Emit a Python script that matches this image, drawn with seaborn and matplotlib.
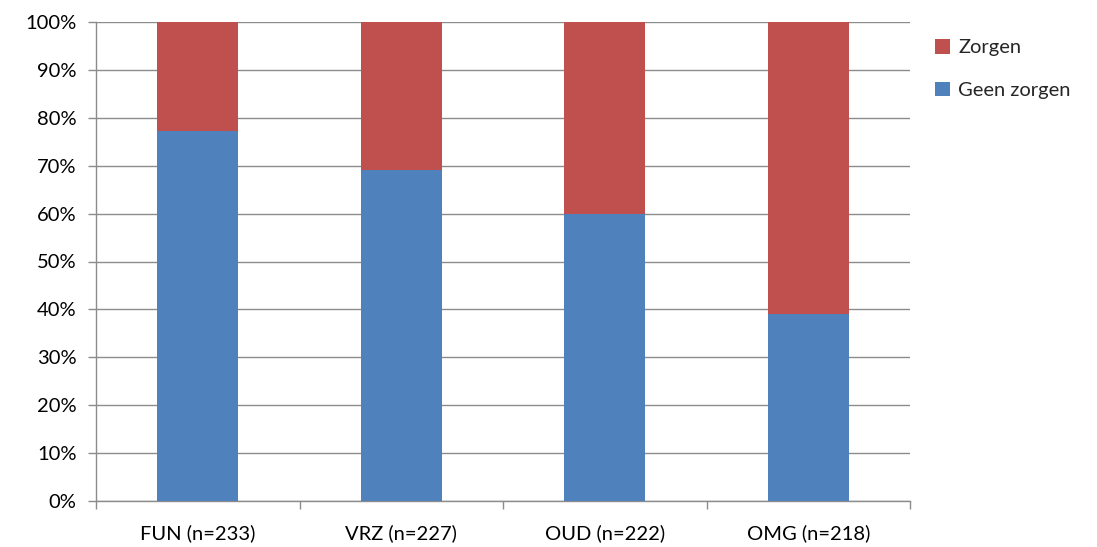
import matplotlib
matplotlib.use("Agg")
import matplotlib.pyplot as plt
import seaborn as sns
import pandas as pd
import numpy as np
from matplotlib.patches import Patch
from matplotlib.ticker import FixedLocator, PercentFormatter

categories = ["FUN (n=233)", "VRZ (n=227)", "OUD (n=222)", "OMG (n=218)"]
geen_zorgen = [77.2, 69.2, 59.9, 39.0]
zorgen = [22.8, 30.8, 40.1, 61.0]

BLUE = "#4F81BD"
RED = "#C0504D"

sns.set_theme(style="white")
plt.rcParams["font.family"] = ["Lato", "DejaVu Sans"]

df = pd.DataFrame({"cat": categories, "geen": geen_zorgen, "zorgen": zorgen})
df["total"] = df["geen"] + df["zorgen"]

fig = plt.figure(figsize=(10.97, 5.47), dpi=100)
ax = fig.add_axes([96/1097, 1 - 501/547, (910-96)/1097, (501-22)/547])

sns.barplot(data=df, x="cat", y="total", color=RED, saturation=1, width=0.4, ax=ax,
            zorder=3, linewidth=0, edgecolor="none")
sns.barplot(data=df, x="cat", y="geen", color=BLUE, saturation=1, width=0.4, ax=ax,
            zorder=4, linewidth=0, edgecolor="none")

ax.set_xlim(-0.5, 3.5)
ax.set_ylim(0, 100)
ax.set_yticks(np.arange(0, 101, 10))
ax.yaxis.set_major_formatter(PercentFormatter(decimals=0))
ax.yaxis.grid(True, color="#8c8c8c", linewidth=1.0, zorder=0)
ax.set_axisbelow(True)
ax.set_xlabel("")
ax.set_ylabel("")

for s in ["top", "right"]:
    ax.spines[s].set_visible(False)
for s in ["left", "bottom"]:
    ax.spines[s].set_color("#8c8c8c")
    ax.spines[s].set_linewidth(1.0)

ax.tick_params(axis="y", which="major", length=6, color="#8c8c8c", width=1, labelsize=14.5, labelcolor="black", pad=8, left=True)
ax.tick_params(axis="x", which="major", length=0, labelsize=14.5, labelcolor="black", pad=17)
ax.xaxis.set_minor_locator(FixedLocator([-0.5, 0.5, 1.5, 2.5, 3.5]))
ax.tick_params(axis="x", which="minor", length=6, color="#8c8c8c", width=1, bottom=True)

handles = [Patch(facecolor=RED, edgecolor="none"), Patch(facecolor=BLUE, edgecolor="none")]
fig.legend(handles, ["Zorgen", "Geen zorgen"], loc="upper left",
           bbox_to_anchor=(927/1097, 1 - 31/547), frameon=False, fontsize=14.5,
           handlelength=0.75, handleheight=0.75, handletextpad=0.4, labelspacing=1.25, borderaxespad=0)

fig.savefig("out.png", dpi=100)
